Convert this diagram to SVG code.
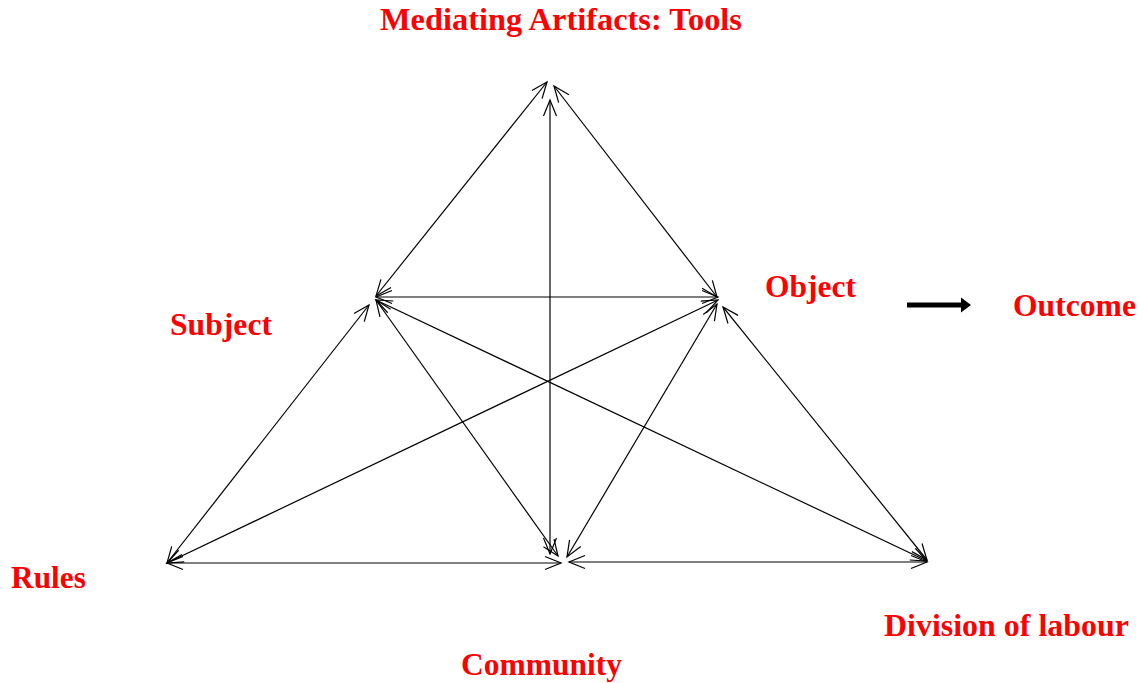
<svg xmlns="http://www.w3.org/2000/svg" width="1141" height="683" viewBox="0 0 1141 683">
<style>
.lbl{font-family:"Liberation Serif","Times New Roman",serif;font-weight:bold;font-size:31px;fill:#ff0000}
.c{stroke:#000;stroke-width:1.2;fill:none;marker-start:url(#ah);marker-end:url(#ah)}
</style>
<defs>
<marker id="ah" viewBox="-18 -8 20 16" markerWidth="20" markerHeight="16" refX="0" refY="0" orient="auto-start-reverse" markerUnits="userSpaceOnUse">
<path d="M-16,-6.5 L0,0 L-16,6.5" fill="none" stroke="#000" stroke-width="1.2"/>
</marker>
</defs>
<rect width="1141" height="683" fill="#fff"/>
<g id="connectors">
<line class="c" x1="376" y1="296" x2="547" y2="82"/>
<line class="c" x1="717" y1="297" x2="554" y2="86"/>
<line class="c" x1="550" y1="554" x2="550" y2="100"/>
<line class="c" x1="376" y1="297" x2="718" y2="297"/>
<line class="c" x1="167" y1="563" x2="369" y2="305"/>
<line class="c" x1="167" y1="563" x2="718" y2="300"/>
<line class="c" x1="376" y1="300" x2="558" y2="556"/>
<line class="c" x1="376" y1="300" x2="927" y2="561"/>
<line class="c" x1="717" y1="304" x2="567" y2="557"/>
<line class="c" x1="723" y1="307" x2="927" y2="560"/>
<line class="c" x1="167" y1="563" x2="561" y2="563"/>
<line class="c" x1="569" y1="562" x2="927" y2="562"/>
<g id="outcome-arrow">
<rect x="907" y="302.5" width="56" height="5" fill="#000"/>
<path d="M961,297.5 L971,305 L961,312.5 Z" fill="#000"/>
</g>
</g>
<g id="tools"><text class="lbl" x="380" y="30" textLength="362" lengthAdjust="spacingAndGlyphs">Mediating Artifacts: Tools</text></g>
<g id="subject"><text class="lbl" x="170" y="335" textLength="102" lengthAdjust="spacingAndGlyphs">Subject</text></g>
<g id="object"><text class="lbl" x="765" y="297" textLength="91" lengthAdjust="spacingAndGlyphs">Object</text></g>
<g id="outcome"><text class="lbl" x="1013" y="316" textLength="123" lengthAdjust="spacingAndGlyphs">Outcome</text></g>
<g id="rules"><text class="lbl" x="11" y="588" textLength="75" lengthAdjust="spacingAndGlyphs">Rules</text></g>
<g id="community"><text class="lbl" x="461" y="675" textLength="161" lengthAdjust="spacingAndGlyphs">Community</text></g>
<g id="division"><text class="lbl" x="884" y="636" textLength="245" lengthAdjust="spacingAndGlyphs">Division of labour</text></g>
</svg>
